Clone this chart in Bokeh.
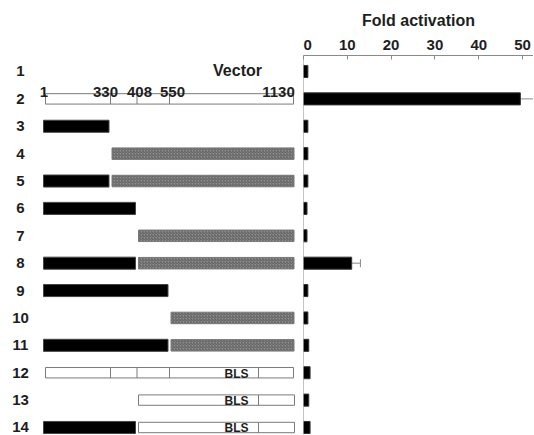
import numpy as np
from bokeh.plotting import figure
from bokeh.models import Range1d, ColumnDataSource, Span, FixedTicker, Whisker, TeeHead
from bokeh.layouts import row
from bokeh.embed import file_html
from bokeh.resources import INLINE
from bokeh.core.properties import value

# ---------------- data ----------------
construct_rows = list(range(1, 15))
row_labels = [str(i) for i in construct_rows]
fold_activation = [1.0, 49.5, 1.0, 1.0, 1.0, 0.8, 0.8, 11.0, 1.0, 1.0, 1.2, 1.5, 1.2, 1.5]
fold_error = [0.0, 3.0, 0.0, 0.0, 0.0, 0.0, 0.0, 2.0, 0.0, 0.0, 0.0, 0.0, 0.0, 0.0]
fold_ticks = [0, 10, 20, 30, 40, 50]

sites = [1, 330, 408, 550, 975, 1130]          # nucleotide positions (975 ~ BLS boundary)
site_labels = ["1", "330", "408", "550", "1130"]

seg_row = [2, 3, 4, 5, 5, 6, 7, 8, 8, 9, 10, 11, 11, 12, 13, 14, 14]
seg_start = [1, 1, 330, 1, 330, 1, 408, 1, 408, 1, 550, 1, 550, 1, 408, 1, 408]
seg_end = [1130, 330, 1130, 330, 1130, 408, 1130, 408, 1130, 550, 1130, 550, 1130, 1130, 1130, 408, 1130]
seg_kind = ["open", "black", "hatch", "black", "hatch", "black", "hatch", "black", "hatch",
            "black", "hatch", "black", "hatch", "open", "open", "black", "open"]

div_row = [2, 2, 2, 12, 12, 12, 12, 13, 14]
div_site = [330, 408, 550, 330, 408, 550, 975, 975, 975]
bls_rows = [12, 13, 14]
vector_row = 1
vector_text = "Vector"

# ---------------- layout (schematic, non-linear map) ----------------
SITE_X = [45, 110, 136.5, 169, 258, 293]
SITE_LABEL_X = [43.5, 105, 139, 172, 278]
def sx(nt):
    return np.interp(nt, sites, SITE_X)

FONT = value("Liberation Sans")
TXT = "#1e1e1e"
H = 434

yr = Range1d(14.256, 0.416)

p1 = figure(width=303, height=H, x_range=Range1d(0, 303), y_range=yr,
            output_backend="svg", toolbar_location=None,
            x_axis_location=None, y_axis_location=None,
            min_border_left=0, min_border_right=0, min_border_top=55, min_border_bottom=0)
p1.grid.visible = False
p1.outline_line_color = None

blk = dict(l=[], r=[], y=[])
hat = dict(l=[], r=[], y=[])
opn = dict(l=[], r=[], y=[])
for r_, s, e, k in zip(seg_row, seg_start, seg_end, seg_kind):
    if k == "black":
        blk["l"].append(sx(s) - 2); blk["r"].append(sx(e) - 1.5); blk["y"].append(r_)
    elif k == "hatch":
        hat["l"].append(sx(s) + 1.5); hat["r"].append(sx(e) + 0.5); hat["y"].append(r_)
    else:
        opn["l"].append(sx(s) + (1.5 if s > 1 else 0)); opn["r"].append(sx(e) + (1 if s > 1 else 0)); opn["y"].append(r_)

p1.hbar(y=blk["y"], left=blk["l"], right=blk["r"], height=0.44,
        fill_color="black", line_color="#444444", line_width=1)
p1.hbar(y=hat["y"], left=hat["l"], right=hat["r"], height=0.42,
        fill_color="#8e8e8e", line_color="#7a7a7a", line_width=1,
        hatch_pattern="/", hatch_color="#5e5e5e", hatch_scale=3, hatch_weight=1)
p1.hbar(y=opn["y"], left=opn["l"], right=opn["r"], height=0.38,
        fill_color="white", line_color="#7a7a7a", line_width=1)

dx = [sx(s) for s in div_site]
p1.segment(x0=dx, x1=dx, y0=[r - 0.19 for r in div_row], y1=[r + 0.19 for r in div_row],
           line_color="#7a7a7a", line_width=1)

p1.text(x=[236] * len(bls_rows), y=bls_rows, text=["BLS"] * len(bls_rows),
        text_font=FONT, text_font_style="bold", text_font_size="12px",
        text_align="center", text_baseline="middle", text_color=TXT, y_offset=1)

p1.text(x=[20] * len(construct_rows), y=construct_rows, text=row_labels,
        text_font=FONT, text_font_style="bold", text_font_size="15px",
        text_align="center", text_baseline="middle", text_color=TXT)

p1.text(x=SITE_LABEL_X, y=[2] * len(site_labels), text=site_labels,
        text_font=FONT, text_font_style="bold", text_font_size="15px",
        text_align="center", text_baseline="alphabetic", text_color=TXT, y_offset=-7)

p1.text(x=[237], y=[vector_row], text=[vector_text],
        text_font=FONT, text_font_style="bold", text_font_size="16px",
        text_align="center", text_baseline="middle", text_color=TXT, y_offset=-1)

# ---------------- right: fold activation ----------------
p2 = figure(width=230, height=H, x_range=Range1d(0, 52.5), y_range=yr,
            output_backend="svg", toolbar_location=None,
            x_axis_location="above", y_axis_location=None,
            min_border_left=0, min_border_right=0, min_border_top=55, min_border_bottom=0)
p2.grid.visible = False
p2.outline_line_color = None

ax = p2.xaxis[0]
ax.ticker = FixedTicker(ticks=fold_ticks)
ax.axis_label = "Fold activation"
ax.axis_label_text_font = "Liberation Sans"
ax.axis_label_text_font_style = "bold"
ax.axis_label_text_font_size = "16px"
ax.axis_label_text_color = TXT
ax.axis_label_standoff = 8
ax.major_label_text_font = "Liberation Sans"
ax.major_label_text_font_style = "bold"
ax.major_label_text_font_size = "15px"
ax.major_label_text_color = TXT
ax.major_label_standoff = 6
ax.major_tick_in = 4
ax.major_tick_out = 0
ax.minor_tick_in = 0
ax.minor_tick_out = 0
ax.axis_line_color = "#8a8a8a"
ax.major_tick_line_color = "#8a8a8a"

p2.add_layout(Span(location=0, dimension="height", line_color="#8a8a8a", line_width=1))

p2.hbar(y=construct_rows, left=0, right=fold_activation, height=0.44,
        fill_color="black", line_color="#333333", line_width=1)

err_rows = [r for r, e in zip(construct_rows, fold_error) if e > 0]
err_lo = [v for v, e in zip(fold_activation, fold_error) if e > 0]
err_hi = [v + e for v, e in zip(fold_activation, fold_error) if e > 0]
src = ColumnDataSource(dict(y=err_rows, lo=err_lo, hi=err_hi))
p2.add_layout(Whisker(source=src, base="y", lower="lo", upper="hi", dimension="width",
                      line_color="#8a8a8a", line_width=1,
                      lower_head=None,
                      upper_head=TeeHead(size=8, line_color="#8a8a8a", line_width=1)))

layout = row(p1, p2)
open("out.html", "w").write(file_html(layout, INLINE))
